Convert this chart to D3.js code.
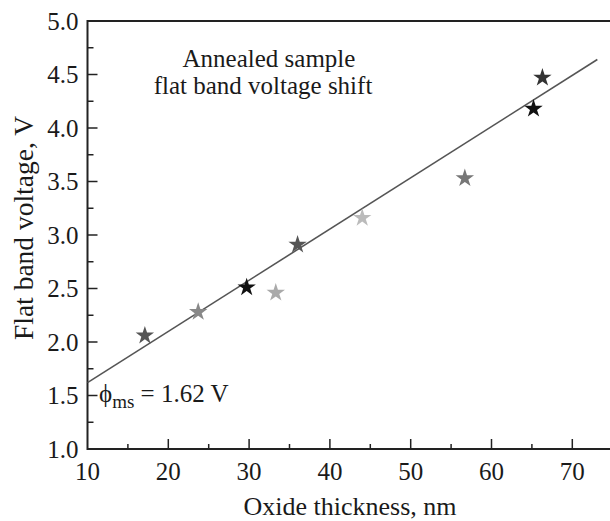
<!DOCTYPE html>
<html>
<head>
<meta charset="utf-8">
<script src="https://cdn.jsdelivr.net/npm/d3@7"></script>
<style>
  body { margin: 0; background: #fff; }
  text { font-family: "Liberation Serif", "Times New Roman", serif; fill: #1a1a1a; }
</style>
</head>
<body>
<div id="chart"></div>
<script>
// measured points (oxide thickness nm, flat band voltage V)
const thickness = [17.1, 23.7, 29.7, 33.3, 36.0, 44.0, 56.7, 65.2, 66.3];
const voltage   = [2.06, 2.28, 2.51, 2.46, 2.91, 3.16, 3.53, 4.18, 4.47];
const shades    = ["#555", "#888", "#111", "#aaa", "#555", "#bbb", "#777", "#111", "#333"];

// linear fit
const fitX = [10, 73.1];
const fitY = [1.62, 4.64];

const xTicks = [10, 20, 30, 40, 50, 60, 70];
const yTicks = [1.0, 1.5, 2.0, 2.5, 3.0, 3.5, 4.0, 4.5, 5.0];

const width = 610, height = 521;
const plotLeft = 87.5, plotTop = 21, plotBottom = 449;

const svg = d3.select("#chart").append("svg")
    .attr("width", width)
    .attr("height", height);

const x = d3.scaleLinear().domain([10, 70]).range([plotLeft, 572.3]);
const y = d3.scaleLinear().domain([1, 5]).range([plotBottom, plotTop]);

const ax = svg.append("g").attr("stroke", "#222").attr("stroke-width", 2);

// frame: left, top, bottom (top/bottom run out to edge)
ax.append("line").attr("x1", plotLeft).attr("x2", width).attr("y1", plotBottom).attr("y2", plotBottom);
ax.append("line").attr("x1", plotLeft).attr("x2", width).attr("y1", plotTop).attr("y2", plotTop);
ax.append("line").attr("x1", plotLeft).attr("x2", plotLeft).attr("y1", plotTop - 1).attr("y2", plotBottom + 1);

// x ticks, inward
const xMinor = d3.range(15, 75, 10);
ax.selectAll(".xt").data(xTicks.slice(1)).enter().append("line")
    .attr("x1", d => x(d)).attr("x2", d => x(d))
    .attr("y1", plotBottom).attr("y2", plotBottom - 10).attr("stroke-width", 1.5);
ax.selectAll(".xm").data(xMinor).enter().append("line")
    .attr("x1", d => x(d)).attr("x2", d => x(d))
    .attr("y1", plotBottom).attr("y2", plotBottom - 5).attr("stroke-width", 1.5);

// y ticks, inward
const yMinor = d3.range(1.25, 5, 0.5);
ax.selectAll(".yt").data(yTicks.slice(1, -1)).enter().append("line")
    .attr("x1", plotLeft).attr("x2", plotLeft + 10)
    .attr("y1", d => y(d)).attr("y2", d => y(d)).attr("stroke-width", 1.5);
ax.selectAll(".ym").data(yMinor).enter().append("line")
    .attr("x1", plotLeft).attr("x2", plotLeft + 6)
    .attr("y1", d => y(d)).attr("y2", d => y(d)).attr("stroke-width", 1.5);

// tick labels
svg.selectAll(".xl").data(xTicks).enter().append("text")
    .attr("x", d => x(d)).attr("y", plotBottom + 31)
    .attr("text-anchor", "middle").style("font-size", "25px")
    .text(d => d);
svg.selectAll(".yl").data(yTicks).enter().append("text")
    .attr("x", plotLeft - 9).attr("y", d => y(d) + 8.5)
    .attr("text-anchor", "end").style("font-size", "25px")
    .text(d => d.toFixed(1));

// axis titles
svg.append("text")
    .attr("x", 350).attr("y", 515)
    .attr("text-anchor", "middle").style("font-size", "26px")
    .text("Oxide thickness, nm");
svg.append("text")
    .attr("transform", "translate(33,228) rotate(-90)")
    .attr("text-anchor", "middle").style("font-size", "27.5px")
    .text("Flat band voltage, V");

// fit line
svg.append("line")
    .attr("x1", x(fitX[0])).attr("y1", y(fitY[0]))
    .attr("x2", x(fitX[1])).attr("y2", y(fitY[1]))
    .attr("stroke", "#555").attr("stroke-width", 1.6);

// stars
const star = d3.symbol().type(d3.symbolStar).size(105);
svg.selectAll(".pt").data(thickness).enter().append("path")
    .attr("d", star)
    .attr("transform", (d, i) => `translate(${x(d)},${y(voltage[i])})`)
    .attr("fill", (d, i) => shades[i]);

// annotation
svg.append("text").attr("x", 269).attr("y", 67)
    .attr("text-anchor", "middle").style("font-size", "25px")
    .text("Annealed sample");
svg.append("text").attr("x", 263).attr("y", 94)
    .attr("text-anchor", "middle").style("font-size", "25px")
    .text("flat band voltage shift");

const phi = svg.append("text").attr("x", 99).attr("y", 402).style("font-size", "25px");
phi.append("tspan").text("\u03d5");
phi.append("tspan").attr("dy", 6).style("font-size", "19px").text("ms");
phi.append("tspan").attr("dy", -6).text(" = 1.62 V");
</script>
</body>
</html>
